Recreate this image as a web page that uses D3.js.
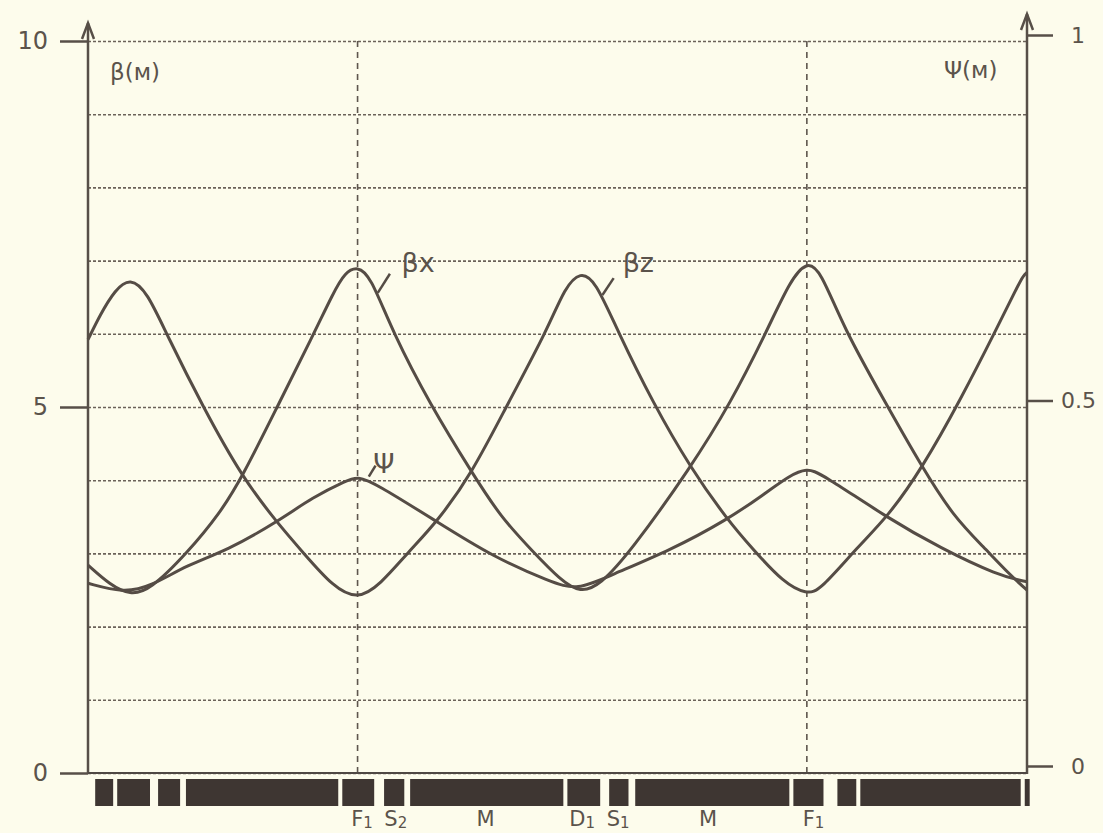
<!DOCTYPE html>
<html>
<head>
<meta charset="utf-8">
<script src="https://cdn.jsdelivr.net/npm/d3@7"></script>
<style>
  body { margin: 0; background: #fdfcec; }
  svg { display: block; }
  text { font-family: "DejaVu Sans", sans-serif; fill: #5b534b; }
</style>
</head>
<body>
<div id="container"></div>
<script>
/* DATA */
// s positions (one cell F1..F1 = 10 units)
const betaX_s = [0, 0.49, 0.94, 1.38, 2.2, 2.94, 3.43, 4.21, 5.01, 5.46, 5.72, 6.0, 6.28, 6.79, 7.62, 8.55, 9.18, 9.91, 10.51, 10.96, 11.4, 12.07, 13.41, 14.3, 15.12, 15.63, 16.0, 16.3, 16.82, 17.71, 18.57, 19.27, 19.93, 20.53, 20.9];
const betaX = [2.84, 2.57, 2.43, 2.5, 3.0, 3.55, 4.04, 5.0, 5.98, 6.56, 6.84, 6.92, 6.8, 6.01, 5.03, 4.1, 3.5, 3.02, 2.64, 2.46, 2.57, 3.02, 4.17, 5.05, 6.05, 6.73, 6.99, 6.87, 6.08, 5.1, 4.17, 3.5, 3.09, 2.7, 2.5];

const betaZ_s = [0, 0.27, 0.6, 0.94, 1.32, 1.76, 2.56, 3.43, 4.21, 4.79, 5.46, 6.0, 6.5, 7.13, 7.77, 8.55, 9.33, 10.22, 10.62, 10.96, 11.29, 11.78, 12.58, 13.41, 14.23, 14.81, 15.48, 16.0, 16.3, 17.13, 17.8, 18.57, 19.42, 20.24, 20.65, 20.82, 20.9];
const betaZ = [5.92, 6.26, 6.6, 6.77, 6.57, 5.98, 5.0, 4.04, 3.42, 3.01, 2.54, 2.37, 2.57, 3.02, 3.43, 4.1, 5.03, 6.05, 6.64, 6.85, 6.73, 6.05, 5.05, 4.17, 3.46, 3.05, 2.6, 2.44, 2.5, 3.09, 3.5, 4.17, 5.1, 6.09, 6.6, 6.8, 6.84];

const psi_s = [0, 0.78, 1.38, 2.2, 3.1, 4.21, 5.01, 5.77, 6.0, 6.39, 7.77, 9.02, 10.29, 10.89, 11.63, 12.96, 14.23, 15.03, 15.63, 16.0, 16.3, 17.8, 18.98, 20.24, 20.9];
const psi = [0.25, 0.237, 0.245, 0.275, 0.295, 0.334, 0.368, 0.391, 0.396, 0.387, 0.334, 0.286, 0.252, 0.24, 0.261, 0.295, 0.337, 0.371, 0.398, 0.407, 0.401, 0.339, 0.298, 0.261, 0.252];

// lattice elements (start, end in s)
const magStart = [0.16, 0.65, 1.56, 2.18, 5.66, 6.59, 7.17, 10.67, 11.6, 12.18, 15.7, 16.68, 17.19, 20.85];
const magEnd   = [0.56, 1.38, 2.05, 5.57, 6.37, 7.04, 10.58, 11.4, 12.03, 15.61, 16.37, 17.1, 20.76, 20.96];

const elemNames = ["F", "S", "M", "D", "S", "M", "F"];
const elemSub   = ["1", "2", "", "1", "1", "", "1"];
const elemPos   = [6.1, 6.85, 8.85, 11.0, 11.8, 13.8, 16.15];

const focusLines = [6, 16];

const leftTicks = [0, 5, 10];
const rightTicks = [0, 0.5, 1];

/* SCALES */
const W = 1103, H = 833;
const svg = d3.select("#container").append("svg")
  .attr("width", W).attr("height", H);

svg.append("rect").attr("width", W).attr("height", H).attr("fill", "#fdfcec");

const x = d3.scaleLinear().domain([0, 20.9]).range([88, 1027]);
const yL = d3.scaleLinear().domain([0, 10]).range([773, 41]);
const yR = d3.scaleLinear().domain([0, 1]).range([766, 35]);

const ink = "#574f48";

// grid lines
const grid = svg.append("g")
  .attr("transform", `translate(${x(0)},0)`)
  .call(d3.axisLeft(yL).ticks(10).tickSize(-(x(20.9) - x(0))).tickFormat(""));
grid.select(".domain").remove();
grid.selectAll("line")
  .attr("stroke", "#6b6259")
  .attr("stroke-width", 1.6)
  .attr("stroke-dasharray", "3,2");

// vertical dashed lines at F1
svg.selectAll(".focus")
  .data(focusLines)
  .join("line")
  .attr("class", "focus")
  .attr("x1", d => x(d)).attr("x2", d => x(d))
  .attr("y1", yL(10)).attr("y2", yL(0))
  .attr("stroke", "#5e564e")
  .attr("stroke-width", 1.6)
  .attr("stroke-dasharray", "6,5");

// left axis
const gl = svg.append("g")
  .attr("transform", `translate(${x(0)},0)`)
  .call(d3.axisLeft(yL).tickValues(leftTicks).tickSize(28).tickPadding(12).tickFormat(d3.format("d")));
gl.select(".domain").remove();
gl.selectAll("line").attr("stroke", ink).attr("stroke-width", 2.5);
gl.selectAll("text").style("font-size", "24px").attr("fill", "#5b534b");

// right axis
const gr = svg.append("g")
  .attr("transform", `translate(${x(20.9)},0)`)
  .call(d3.axisRight(yR).tickValues(rightTicks).tickSize(26).tickPadding(8).tickFormat(d => d === 0.5 ? "0.5" : d3.format("d")(d)));
gr.select(".domain").remove();
gr.selectAll("line").attr("stroke", ink).attr("stroke-width", 2.5);
gr.selectAll("text").style("font-size", "22px").attr("fill", "#5b534b")
  .attr("dx", d => d === 0.5 ? 0 : 10);

// axis lines with arrows
[[x(0), 23, yL(0)], [x(20.9), 14, yR(0) + 8]].forEach(([ax, top, bot]) => {
  svg.append("line")
    .attr("x1", ax).attr("x2", ax).attr("y1", top).attr("y2", bot)
    .attr("stroke", ink).attr("stroke-width", 2.5);
  svg.append("path")
    .attr("d", `M${ax - 6},${top + 16} L${ax},${top} L${ax + 6},${top + 16}`)
    .attr("fill", "none").attr("stroke", ink).attr("stroke-width", 2.5);
});

// base line
svg.append("line")
  .attr("x1", x(0)).attr("x2", x(20.9))
  .attr("y1", yL(0)).attr("y2", yL(0))
  .attr("stroke", "#4f4843").attr("stroke-width", 2.2);

/* CURVES */
const lineL = (sArr, vArr) => d3.line()
  .x(i => x(sArr[i])).y(i => yL(vArr[i]))
  .curve(d3.curveBasis)(d3.range(sArr.length));

const lineR = d3.line()
  .x(i => x(psi_s[i])).y(i => yR(psi[i]))
  .curve(d3.curveBasis);

svg.append("path").attr("d", lineL(betaX_s, betaX))
  .attr("fill", "none").attr("stroke", "#554c45").attr("stroke-width", 3);
svg.append("path").attr("d", lineL(betaZ_s, betaZ))
  .attr("fill", "none").attr("stroke", "#554c45").attr("stroke-width", 3);
svg.append("path").attr("d", lineR(d3.range(psi_s.length)))
  .attr("fill", "none").attr("stroke", "#554c45").attr("stroke-width", 3);

/* LABELS */
svg.append("text").attr("x", 110).attr("y", 80).style("font-size", "23px").text("β(м)");
svg.append("text").attr("x", 944).attr("y", 78).style("font-size", "23px").text("Ψ(м)");

const curveLabels = [
  { t: "βx", s: 6.98, v: 6.85, l: [6.45, 6.56, 6.72, 6.82] },
  { t: "βz", s: 11.9, v: 6.85, l: [11.45, 6.53, 11.7, 6.76] },
  { t: "Ψ",  s: 6.35, v: 4.1,  l: [6.25, 4.05, 6.4, 4.2] }
];
curveLabels.forEach(c => {
  svg.append("text").attr("x", x(c.s)).attr("y", yL(c.v)).style("font-size", "27px").text(c.t);
  svg.append("line")
    .attr("x1", x(c.l[0])).attr("y1", yL(c.l[1]))
    .attr("x2", x(c.l[2])).attr("y2", yL(c.l[3]))
    .attr("stroke", "#554c45").attr("stroke-width", 2.5);
});

/* LATTICE BAR */
svg.selectAll(".mag")
  .data(magStart)
  .join("rect")
  .attr("class", "mag")
  .attr("x", (d, i) => x(d))
  .attr("width", (d, i) => x(magEnd[i]) - x(d))
  .attr("y", 779)
  .attr("height", 27)
  .attr("fill", "#3e3632");

const el = svg.selectAll(".elem")
  .data(elemNames)
  .join("text")
  .attr("class", "elem")
  .attr("x", (d, i) => x(elemPos[i]))
  .attr("y", 826)
  .attr("text-anchor", "middle")
  .style("font-size", "21px");
el.append("tspan").text(d => d);
el.append("tspan")
  .attr("dy", 2)
  .style("font-size", "15px")
  .text((d, i) => elemSub[i]);
</script>
</body>
</html>
